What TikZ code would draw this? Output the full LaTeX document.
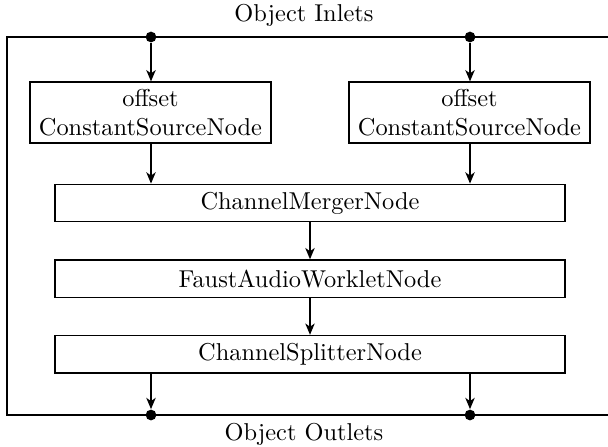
\documentclass[tikz,border=0pt]{standalone}
\usetikzlibrary{arrows.meta}
\begin{document}
\begin{tikzpicture}[x=0.41pt,y=-0.41pt,
  blk/.style={draw,line width=0.5pt,inner sep=0pt,align=center},
  csn/.style={blk,minimum width=98.8pt,minimum height=25pt},
  wide/.style={blk,minimum width=209.1pt,minimum height=15.4pt},
  port/.style={circle,fill=black,inner sep=0pt,minimum size=4.4pt},
  flow/.style={line width=0.8pt,-{Stealth[length=4.6pt,width=3.8pt,inset=1.3pt]}},
  frame/.style={line width=0.65pt}]
\useasboundingbox (0,0) rectangle (608,446);
\node (inlab) at (304,15) {Object Inlets};
\node (outlab) at (304,434) {Object Outlets};
\coordinate (tr) at (609,37);
\coordinate (tl) at (7,37);
\coordinate (bl) at (7,415);
\coordinate (br) at (609,415);
\draw[frame] (tr) -- (tl) -- (bl) -- (br);
\node[port] (i1) at (151,37) {};
\node[port] (i2) at (470,37) {};
\node[port] (o1) at (151,415) {};
\node[port] (o2) at (470,415) {};
\node[csn] (c1) at (150.5,112.5) {offset\\ConstantSourceNode};
\node[csn] (c2) at (469.5,112.5) {offset\\ConstantSourceNode};
\node[wide] (merge) at (310,203) {ChannelMergerNode};
\node[wide] (faust) at (310,278.7) {FaustAudioWorkletNode};
\node[wide] (split) at (310,354.2) {ChannelSplitterNode};
\draw[flow] (i1) -- (i1 |- c1.north);
\draw[flow] (i2) -- (i2 |- c2.north);
\draw[flow] (i1 |- c1.south) -- (i1 |- merge.north);
\draw[flow] (i2 |- c2.south) -- (i2 |- merge.north);
\draw[flow] (merge) -- (faust);
\draw[flow] (faust) -- (split);
\draw[flow] (o1 |- split.south) -- (o1);
\draw[flow] (o2 |- split.south) -- (o2);
\end{tikzpicture}
\end{document}
